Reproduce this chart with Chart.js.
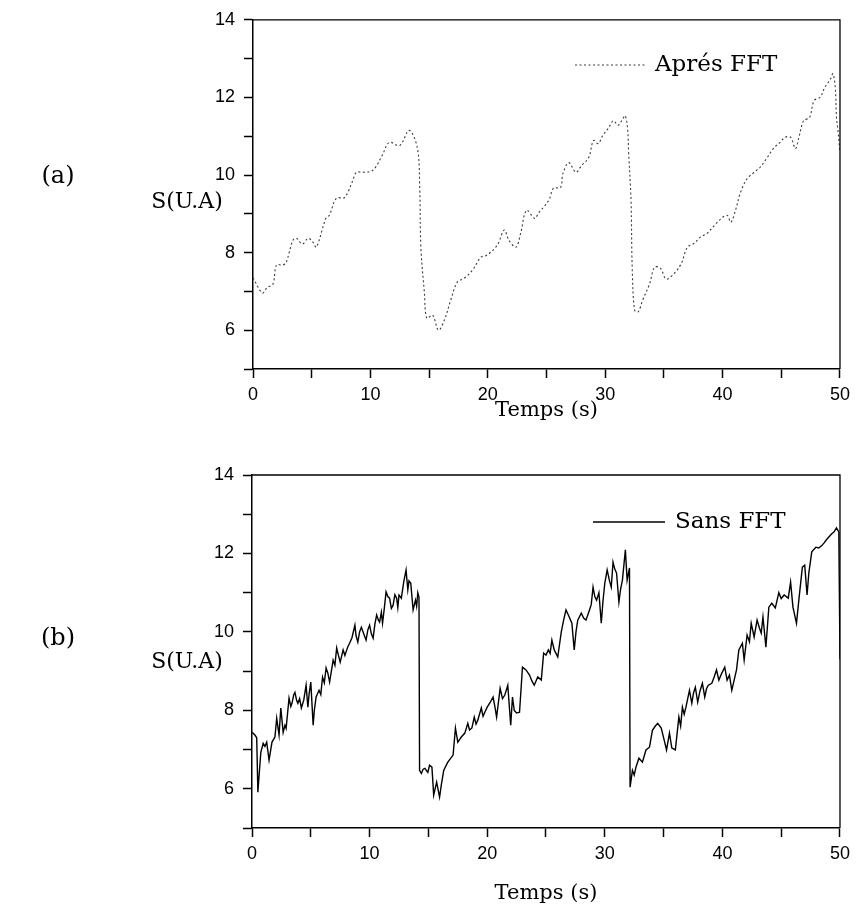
<!DOCTYPE html>
<html lang="fr">
<head>
<meta charset="utf-8">
<title>S(U.A) en fonction du temps</title>
<script src="https://cdn.jsdelivr.net/npm/chart.js@4.4.1/dist/chart.umd.min.js"></script>
<style>
  html, body { margin: 0; padding: 0; background: #fff; }
  #lienzo { position: relative; width: 856px; height: 919px; overflow: hidden; }
  canvas { position: absolute; left: 0; }
  #graficoA { top: 0; }
  #graficoB { top: 455px; }
  .etiqueta { position: absolute; font-family: 'DejaVu Serif', serif; color: #000; transform: translate(-50%, -50%); white-space: nowrap; }
</style>
</head>
<body>
<div id="lienzo">
  <canvas id="graficoA" width="856" height="423"></canvas>
  <canvas id="graficoB" width="856" height="451"></canvas>
  <div class="etiqueta" style="left:58px; top:175px; font-size:24px;">(a)</div>
  <div class="etiqueta" style="left:187px; top:200px; font-size:22px;">S(U.A)</div>
  <div class="etiqueta" style="left:58px; top:637px; font-size:24px;">(b)</div>
  <div class="etiqueta" style="left:187px; top:660px; font-size:22px;">S(U.A)</div>
</div>
<script>
// Señal después de la FFT (a): tiempo en s y S en U.A
const tiempoFFT = [0, 0.8, 1.2, 1.7, 2.0, 2.5, 2.8, 3.4, 3.7, 4.2, 4.7, 5.1, 5.4, 6.2, 6.5, 7.1, 7.8, 8.5, 8.8, 9.3,
    10.2, 11.0, 11.6, 12.5, 13.3, 14.0, 14.2, 14.3, 14.6, 14.8, 15.3, 15.8, 16.3, 16.9, 17.4, 18.0, 18.7, 19.4, 19.9,
    20.8, 21.4, 21.8, 22.4, 22.8, 23.3, 24.0, 24.3, 25.2, 25.6, 26.2, 26.4, 26.9, 27.5, 28.0, 28.6, 29.0, 29.4, 29.8,
    30.3, 30.7, 31.1, 31.5, 31.7, 31.9, 32.0, 32.2, 32.3, 32.5, 32.8, 33.2, 33.8, 34.2, 34.7, 35.2, 35.9, 36.5, 37.0,
    37.6, 38.1, 38.7, 39.3, 40.0, 40.4, 40.7, 41.1, 41.5, 42.1, 42.7, 43.2, 43.8, 44.4, 44.9, 45.3, 45.8, 46.2, 46.5,
    46.9, 47.4, 47.8, 48.3, 48.7, 49.2, 49.4, 49.6, 49.7, 49.8, 50];
const senalFFT = [7.35, 6.96, 7.1, 7.19, 7.68, 7.68, 7.73, 8.32, 8.37, 8.22, 8.37, 8.27, 8.14, 8.88, 8.96, 9.4, 9.42, 9.86, 10.07, 10.07,
    10.12, 10.5, 10.84, 10.76, 11.15, 10.7, 9.68, 8.14, 6.96, 6.31, 6.39, 6.0, 6.26, 6.83, 7.24, 7.34, 7.55, 7.88, 7.93,
    8.19, 8.58, 8.32, 8.14, 8.5, 9.09, 8.88, 9.01, 9.35, 9.66, 9.68, 10.04, 10.32, 10.07, 10.25, 10.45, 10.89, 10.81, 11.02,
    11.22, 11.4, 11.28, 11.45, 11.53, 11.22, 10.55, 9.35, 7.62, 6.52, 6.47, 6.78, 7.21, 7.62, 7.6, 7.32, 7.47, 7.73, 8.14,
    8.24, 8.4, 8.5, 8.7, 8.91, 8.96, 8.78, 9.09, 9.53, 9.91, 10.07, 10.2, 10.45, 10.71, 10.84, 10.97, 10.97, 10.68, 10.97,
    11.4, 11.48, 11.92, 12.0, 12.25, 12.48, 12.61, 12.25, 11.48, 11.22, 10.6];

// Señal sin FFT (b), diez muestras por línea
const tiempoBruto = [
    0, 0.25, 0.4, 0.5, 0.75, 0.95, 1.1, 1.25, 1.45, 1.7,
    1.95, 2.1, 2.3, 2.45, 2.65, 2.8, 2.9, 3.15, 3.3, 3.4,
    3.55, 3.65, 3.8, 3.9, 4.05, 4.2, 4.4, 4.6, 4.75, 4.85,
    5.0, 5.2, 5.3, 5.45, 5.7, 5.85, 6.0, 6.15, 6.3, 6.45,
    6.6, 6.9, 7.05, 7.2, 7.35, 7.5, 7.75, 7.9, 8.0, 8.15,
    8.3, 8.5, 8.75, 8.85, 9.0, 9.15, 9.3, 9.5, 9.7, 9.85,
    10.0, 10.15, 10.3, 10.45, 10.6, 10.75, 10.85, 11.0, 11.1, 11.25,
    11.4, 11.55, 11.7, 11.85, 12.0, 12.15, 12.3, 12.4, 12.5, 12.7,
    12.9, 13.1, 13.25, 13.35, 13.5, 13.7, 13.9, 14.0, 14.1, 14.2,
    14.25, 14.4, 14.55, 14.7, 14.95, 15.1, 15.3, 15.45, 15.7, 15.95,
    16.1, 16.3, 16.65, 17.1, 17.3, 17.5, 17.8, 18.1, 18.35, 18.5,
    18.7, 18.9, 19.05, 19.2, 19.5, 19.65, 19.8, 20.0, 20.25, 20.5,
    20.65, 20.8, 21.1, 21.3, 21.5, 21.75, 22.0, 22.15, 22.3, 22.5,
    22.75, 23.0, 23.3, 23.6, 23.8, 24.0, 24.3, 24.6, 24.8, 25.0,
    25.2, 25.35, 25.5, 25.7, 26.0, 26.3, 26.5, 26.7, 26.95, 27.2,
    27.4, 27.55, 27.7, 28.0, 28.2, 28.4, 28.7, 28.85, 29.0, 29.15,
    29.3, 29.5, 29.7, 29.85, 30.0, 30.2, 30.4, 30.55, 30.7, 30.85,
    31.0, 31.2, 31.35, 31.5, 31.75, 31.9, 32.1, 32.15, 32.35, 32.5,
    32.65, 32.9, 33.2, 33.5, 33.8, 34.05, 34.3, 34.5, 34.8, 35.05,
    35.25, 35.5, 35.7, 36.0, 36.3, 36.45, 36.6, 36.75, 36.9, 37.2,
    37.4, 37.55, 37.7, 37.9, 38.1, 38.3, 38.5, 38.65, 38.8, 39.1,
    39.3, 39.5, 39.7, 39.95, 40.2, 40.4, 40.6, 40.8, 41.2, 41.4,
    41.7, 41.85, 42.1, 42.3, 42.45, 42.7, 42.95, 43.15, 43.3, 43.45,
    43.7, 43.95, 44.2, 44.5, 44.8, 45.0, 45.25, 45.6, 45.8, 46.0,
    46.3, 46.5, 46.8, 47.0, 47.2, 47.35, 47.6, 47.95, 48.2, 48.45,
    48.65, 48.85, 49.05, 49.3, 49.5, 49.7, 49.9, 50];
const senalBruta = [
    7.44, 7.37, 7.3, 5.91, 6.93, 7.16, 7.08, 7.19, 6.73, 7.19,
    7.32, 7.8, 7.37, 8.06, 7.44, 7.62, 7.54, 8.31, 8.1, 8.18,
    8.4, 8.46, 8.25, 8.18, 8.3, 8.06, 8.26, 8.64, 8.08, 8.4,
    8.72, 7.62, 8.0, 8.34, 8.51, 8.4, 8.85, 8.7, 9.08, 8.95,
    8.72, 9.28, 9.15, 9.59, 9.4, 9.23, 9.54, 9.4, 9.49, 9.62,
    9.71, 9.85, 10.17, 9.9, 9.74, 10.0, 10.12, 9.95, 9.79, 10.05,
    10.17, 9.95, 9.84, 10.2, 10.43, 10.3, 10.25, 10.5, 10.22, 10.6,
    11.02, 10.9, 10.86, 10.6, 10.68, 10.95, 10.86, 10.62, 10.94, 10.86,
    11.27, 11.58, 11.07, 11.3, 11.24, 10.56, 10.81, 10.65, 11.0, 10.89,
    6.47, 6.39, 6.5, 6.52, 6.42, 6.6, 6.55, 5.84, 6.17, 5.79,
    6.1, 6.47, 6.68, 6.86, 7.55, 7.19, 7.32, 7.42, 7.67, 7.5,
    7.55, 7.83, 7.65, 7.75, 8.06, 7.85, 7.95, 8.08, 8.2, 8.34,
    8.1, 7.83, 8.56, 8.3, 8.39, 8.64, 7.62, 8.34, 8.0, 7.93,
    7.95, 9.1, 9.03, 8.9, 8.75, 8.64, 8.85, 8.77, 9.46, 9.41,
    9.54, 9.45, 9.79, 9.54, 9.36, 10.0, 10.3, 10.56, 10.4, 10.22,
    9.54, 10.0, 10.3, 10.48, 10.35, 10.3, 10.56, 10.7, 11.14, 10.9,
    10.81, 11.0, 10.22, 10.8, 11.24, 11.58, 11.3, 11.14, 11.78, 11.6,
    11.5, 10.76, 11.1, 11.32, 12.09, 11.32, 11.63, 6.04, 6.47, 6.35,
    6.55, 6.78, 6.68, 6.99, 7.06, 7.49, 7.6, 7.67, 7.55, 7.24,
    6.99, 7.42, 7.04, 6.99, 7.83, 7.6, 8.08, 7.9, 8.08, 8.51,
    8.18, 8.45, 8.59, 8.21, 8.5, 8.69, 8.34, 8.55, 8.64, 8.69,
    8.85, 9.03, 8.77, 8.95, 9.1, 8.77, 8.9, 8.51, 9.03, 9.54,
    9.71, 9.28, 9.92, 9.75, 10.22, 9.87, 10.3, 10.1, 9.97, 10.38,
    9.61, 10.63, 10.73, 10.61, 11.0, 10.85, 10.94, 10.86, 11.27, 10.63,
    10.22, 10.81, 11.65, 11.7, 10.94, 11.5, 12.04, 12.16, 12.14, 12.2,
    12.27, 12.35, 12.42, 12.5, 12.55, 12.65, 12.55, 9.3];

// Marcas con etiqueta en los ejes
const etiquetasX = [0, 10, 20, 30, 40, 50];
const etiquetasY = [6, 8, 10, 12, 14];

// Plugin para cerrar el recuadro (bordes superior y derecho)
const pluginMarco = {
    id: 'marco',
    afterDraw(chart) {
        const { ctx, chartArea: a } = chart;
        ctx.save();
        ctx.strokeStyle = '#000';
        ctx.lineWidth = 1.3;
        ctx.beginPath();
        ctx.moveTo(a.left, a.top);
        ctx.lineTo(a.right, a.top);
        ctx.lineTo(a.right, a.bottom);
        ctx.stroke();
        ctx.restore();
    }
};

// Plugin para la leyenda dentro del área del gráfico
const pluginLeyenda = {
    id: 'leyenda',
    afterDraw(chart, args, opciones) {
        const ds = chart.data.datasets[0];
        const ctx = chart.ctx;
        ctx.save();
        ctx.strokeStyle = ds.borderColor;
        ctx.lineWidth = ds.borderWidth;
        ctx.setLineDash(ds.borderDash || []);
        ctx.beginPath();
        ctx.moveTo(opciones.x1, opciones.y);
        ctx.lineTo(opciones.x2, opciones.y);
        ctx.stroke();
        ctx.setLineDash([]);
        ctx.fillStyle = '#000';
        ctx.font = "23px 'DejaVu Serif'";
        ctx.textBaseline = 'middle';
        ctx.fillText(ds.label, opciones.xTexto, opciones.y);
        ctx.restore();
    }
};

// Función para crear cada panel
function crearGrafico(idCanvas, tiempos, valores, serie, medidas) {
    const puntos = tiempos.map((t, i) => ({ x: t, y: valores[i] }));
    const fuenteTicks = { family: "'Liberation Sans', Arial, sans-serif", size: 18 };

    return new Chart(document.getElementById(idCanvas), {
        type: 'line',
        data: {
            datasets: [{
                label: serie.nombre,
                data: puntos,
                borderColor: serie.color,
                borderWidth: serie.grosor,
                borderDash: serie.guiones,
                tension: serie.tension,
                pointRadius: 0,
                fill: false
            }]
        },
        options: {
            responsive: false,
            animation: false,
            devicePixelRatio: 1,
            layout: { padding: { top: medidas.arriba, right: medidas.derecha, left: 0, bottom: 0 } },
            plugins: {
                legend: { display: false },
                tooltip: { enabled: false },
                leyenda: medidas.leyenda
            },
            scales: {
                x: {
                    type: 'linear',
                    min: 0,
                    max: 50,
                    border: { display: true, color: '#000', width: 1.5 },
                    grid: { drawOnChartArea: false, drawTicks: true, tickLength: 9, tickColor: '#000', tickWidth: 1.5 },
                    ticks: {
                        stepSize: 5,
                        autoSkip: false,
                        maxRotation: 0,
                        padding: 6,
                        color: '#000',
                        font: fuenteTicks,
                        callback: v => etiquetasX.includes(v) ? String(v) : ''
                    },
                    title: {
                        display: true,
                        text: 'Temps (s)',
                        color: '#000',
                        padding: 0,
                        font: { family: "'DejaVu Serif', serif", size: 21 }
                    },
                    afterFit: escala => { escala.height = medidas.altoX; }
                },
                y: {
                    min: 5,
                    max: 14,
                    border: { display: true, color: '#000', width: 1.5 },
                    grid: { drawOnChartArea: false, drawTicks: true, tickLength: 9, tickColor: '#000', tickWidth: 1.5 },
                    ticks: {
                        stepSize: 1,
                        autoSkip: false,
                        padding: 9,
                        color: '#000',
                        font: fuenteTicks,
                        callback: v => etiquetasY.includes(v) ? String(v) : ''
                    },
                    afterFit: escala => { escala.width = medidas.anchoY; }
                }
            }
        },
        plugins: [pluginMarco, pluginLeyenda]
    });
}

crearGrafico('graficoA', tiempoFFT, senalFFT,
    { nombre: 'Aprés FFT', color: '#3a3a3a', grosor: 1.1, guiones: [2, 2.5], tension: 0.35 },
    { arriba: 19, derecha: 12, altoX: 54, anchoY: 253, leyenda: { x1: 575, x2: 647, xTexto: 655, y: 65 } });

crearGrafico('graficoB', tiempoBruto, senalBruta,
    { nombre: 'Sans FFT', color: '#000', grosor: 1.4, guiones: [], tension: 0 },
    { arriba: 20, derecha: 15, altoX: 78, anchoY: 252, leyenda: { x1: 593, x2: 665, xTexto: 675, y: 67 } });
</script>
</body>
</html>
